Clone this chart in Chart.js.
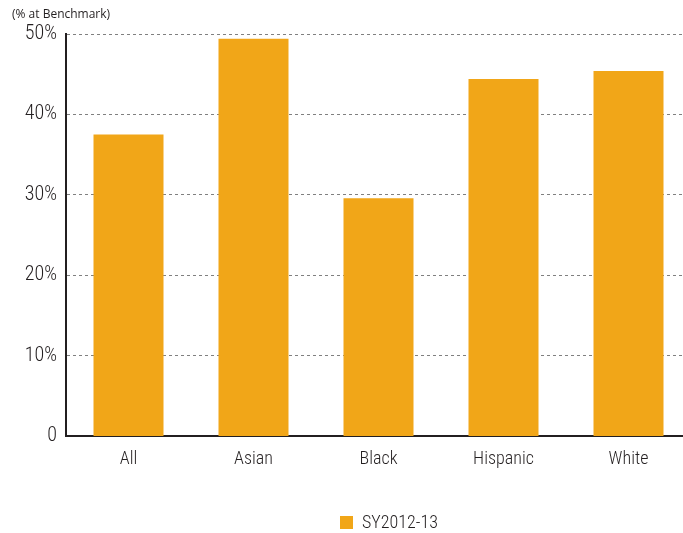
<!DOCTYPE html>
<html>
<head>
<meta charset="utf-8">
<script src="https://cdn.jsdelivr.net/npm/chart.js@4"></script>
<style>
  html, body { margin: 0; padding: 0; background: #fff; overflow: hidden; }
  #wrap { position: relative; width: 683px; height: 533px; overflow: hidden; }
  #chart-box { position: absolute; left: 0; top: 0; width: 691px; height: 533px; }
  #unit { position: absolute; left: 12px; top: 5px; font: 12px "Open Sans", sans-serif; color: #231f20; }
  #legend { position: absolute; left: 340px; top: 511px; font: condensed 350 18px "Roboto Condensed", Roboto, sans-serif; color: #231f20; white-space: nowrap; }
  #legend span.sw { display: inline-block; width: 13px; height: 13px; background: #F1A618; margin-right: 9px; vertical-align: -1px; }
</style>
</head>
<body>
<div id="wrap">
  <div id="chart-box"><canvas id="chart" width="691" height="533"></canvas></div>
  <div id="unit">(% at Benchmark)</div>
  <div id="legend"><span class="sw"></span>SY2012-13</div>
</div>
<script>
  // categories and values
  var groups = ['All', 'Asian', 'Black', 'Hispanic', 'White'];
  var sy201213 = [37.5, 49.4, 29.6, 44.4, 45.4];
  var yTicks = [0, 10, 20, 30, 40, 50];

  var barColor = '#F1A618';
  var ink = '#231f20';
  var narrow = '"Roboto Condensed", Roboto, sans-serif';

  var ctx = document.getElementById('chart').getContext('2d');
  new Chart(ctx, {
    type: 'bar',
    data: {
      labels: groups,
      datasets: [{
        label: 'SY2012-13',
        data: sy201213,
        backgroundColor: barColor,
        borderWidth: 0,
        barPercentage: 0.56,
        categoryPercentage: 1.0
      }]
    },
    options: {
      responsive: false,
      animation: false,
      layout: { padding: { left: 0, right: 0, top: 34, bottom: 59 } },
      plugins: {
        legend: { display: false },
        tooltip: { enabled: false }
      },
      scales: {
        x: {
          grid: { display: false },
          border: { display: true, color: ink, width: 2 },
          ticks: { color: ink, font: { family: narrow, weight: 'condensed 350', size: 18 }, padding: 4 }
        },
        y: {
          min: 0,
          max: 50,
          afterBuildTicks: function (scale) {
            scale.ticks = yTicks.map(function (v) { return { value: v }; });
          },
          afterFit: function (scale) { scale.width = 66; },
          grid: {
            color: function (c) { return c.tick.value === 0 ? 'rgba(0,0,0,0)' : '#808080'; },
            lineWidth: 1,
            drawTicks: false
          },
          border: { display: true, color: ink, width: 2, dash: [3, 3] },
          ticks: {
            color: ink,
            font: { family: narrow, weight: 'condensed 350', size: 20 },
            padding: 9,
            callback: function (v) { return v === 0 ? '0' : v + '%'; }
          }
        }
      }
    }
  });
</script>
</body>
</html>
